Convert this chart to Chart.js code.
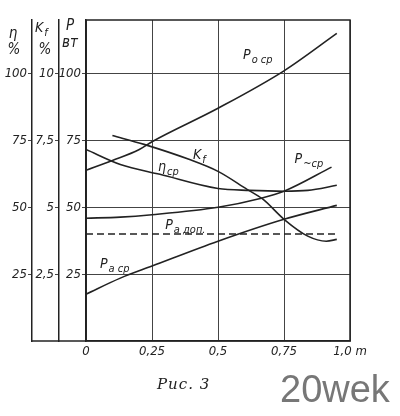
<!DOCTYPE html>
<html>
<head>
<meta charset="utf-8">
<script src="https://cdn.jsdelivr.net/npm/chart.js@4.4.1/dist/chart.umd.min.js"></script>
<style>
  html, body { margin: 0; padding: 0; background: #fff; }
  #wrap { position: relative; width: 400px; height: 416px; }
  #cap { position: absolute; left: 157px; top: 375px; font: italic 15px 'DejaVu Serif', serif; letter-spacing: 1px; color: #222; }
  #wm { position: absolute; left: 280px; top: 368px; font: 38px 'Liberation Sans', Arial, sans-serif; color: #777; }
</style>
</head>
<body>
<div id="wrap">
  <canvas id="myChart" width="400" height="416"></canvas>
  <div id="cap">Рис. 3</div>
  <div id="wm">20wek</div>
</div>
<script>
const ctx = document.getElementById('myChart');

// modulation depth m
let xTicks   = [0, 0.25, 0.5, 0.75, 1];
let xLabels  = ['0', '0,25', '0,5', '0,75', '1,0 m'];
let pTicks   = [25, 50, 75, 100];
let etaTicks = [25, 50, 75, 100];
let kfTicks  = [2.5, 5, 7.5, 10];
let kfLabels = ['2,5', '5', '7,5', '10'];

// P_o cp, W
let pOcpX = [0, 0.1, 0.2, 0.25, 0.5, 0.75, 0.95];
let pOcp  = [63.8, 67.5, 71.5, 74.5, 87, 101, 115];
// K_f, %
let kfX = [0.1, 0.22, 0.39, 0.5, 0.61, 0.67, 0.75, 0.84, 0.91, 0.95];
let kf  = [7.68, 7.35, 6.79, 6.34, 5.67, 5.30, 4.55, 3.92, 3.73, 3.80];
// eta cp, %
let etaX = [0, 0.13, 0.28, 0.5, 0.62, 0.75, 0.84, 0.95];
let eta  = [71.6, 66, 62.3, 57, 56.3, 56, 56.3, 58.2];
// P~cp, W
let pTildeX = [0, 0.13, 0.25, 0.5, 0.66, 0.75, 0.93];
let pTilde  = [45.9, 46.3, 47.2, 50, 53.3, 56, 65];
// P_a cp, W
let pAcpX = [0, 0.13, 0.25, 0.5, 0.75, 0.95];
let pAcp  = [17.5, 23.5, 28, 37.3, 45.5, 50.7];
// P_a доп, W
let pAdopX = [0, 0.95];
let pAdop  = [40, 40];

const pts = (xs, ys) => xs.map((x, i) => ({ x: x, y: ys[i] }));
const ink = '#222';
const tickFont = { family: "'DejaVu Sans Condensed', 'DejaVu Sans', sans-serif", style: 'italic', size: 13 };

function line(data, axis, dash) {
  return {
    data: data,
    yAxisID: axis,
    borderColor: ink,
    borderWidth: 1.6,
    borderDash: dash || [],
    pointRadius: 0,
    cubicInterpolationMode: 'monotone',
    fill: false
  };
}

// curve labels: main letter + subscript, placed in data coords
let curveLabels = [
  { main: 'P', sub: 'o cp', x: 0.595, y: 105.6 },
  { main: 'K', sub: 'f', x: 0.405, y: 68 },
  { main: 'η', sub: 'cp', x: 0.273, y: 63.5 },
  { main: 'P', sub: '~cp', x: 0.79, y: 66.4 },
  { main: 'P', sub: 'a доп.', x: 0.30, y: 41.8 },
  { main: 'P', sub: 'a cp', x: 0.053, y: 27.2 }
];

function subText(c, main, sub, x, y) {
  c.font = "italic 14px 'DejaVu Sans Condensed', 'DejaVu Sans', sans-serif";
  c.fillText(main, x, y);
  let w = c.measureText(main).width;
  c.font = "italic 11px 'DejaVu Sans Condensed', 'DejaVu Sans', sans-serif";
  c.fillText(sub, x + w + 1, y + 4);
}

const decor = {
  id: 'decor',
  afterDraw(chart) {
    const c = chart.ctx, a = chart.chartArea, s = chart.scales;
    c.save();
    c.strokeStyle = ink;
    c.lineWidth = 1.5;
    c.strokeRect(a.left, a.top, a.right - a.left, a.bottom - a.top);
    // bottom line runs on under the extra axes
    c.beginPath();
    c.moveTo(s.yEta.right, a.bottom);
    c.lineTo(a.left, a.bottom);
    c.stroke();
    c.fillStyle = ink;
    c.textBaseline = 'alphabetic';
    curveLabels.forEach(l => {
      subText(c, l.main, l.sub, s.x.getPixelForValue(l.x), s.yP.getPixelForValue(l.y));
    });
    // axis headers
    c.textAlign = 'center';
    c.font = "italic 15px 'DejaVu Sans Condensed', 'DejaVu Sans', sans-serif";
    c.fillText('η', s.yEta.right - 19, a.top + 18);
    c.fillText('%', s.yEta.right - 18, a.top + 34);
    c.fillText('%', s.yKf.right - 14, a.top + 34);
    c.fillText('P', s.yP.right - 16, a.top + 10);
    c.fillText('вт', s.yP.right - 16, a.top + 27);
    c.textAlign = 'left';
    subText(c, 'K', 'f', s.yKf.right - 24, a.top + 12);
    c.restore();
  }
};

function leftAxis(weight, max, ticks, labels, width, onArea) {
  return {
    type: 'linear',
    position: 'left',
    weight: weight,
    min: 0,
    max: max,
    afterBuildTicks: sc => { sc.ticks = ticks.map(v => ({ value: v })); },
    afterFit: sc => { sc.width = width; },
    ticks: {
      color: ink,
      font: tickFont,
      padding: 1,
      callback: (v) => labels ? labels[ticks.indexOf(v)] : String(v)
    },
    grid: { color: '#444', lineWidth: 1, tickLength: 4, drawOnChartArea: onArea },
    border: { display: true, color: ink, width: 1.5 }
  };
}

new Chart(ctx, {
  type: 'line',
  data: {
    datasets: [
      line(pts(pOcpX, pOcp), 'yP'),
      line(pts(kfX, kf), 'yKf'),
      line(pts(etaX, eta), 'yEta'),
      line(pts(pTildeX, pTilde), 'yP'),
      line(pts(pAcpX, pAcp), 'yP'),
      line(pts(pAdopX, pAdop), 'yP', [7, 4])
    ]
  },
  plugins: [decor],
  options: {
    responsive: false,
    animation: false,
    layout: { padding: { left: 4, top: 20, right: 50, bottom: 51 } },
    plugins: { legend: { display: false }, tooltip: { enabled: false } },
    scales: {
      x: {
        type: 'linear',
        min: 0,
        max: 1,
        afterBuildTicks: sc => { sc.ticks = xTicks.map(v => ({ value: v })); },
        afterFit: sc => { sc.height = 24; },
        ticks: {
          color: ink,
          font: tickFont,
          padding: 3,
          autoSkip: false,
          maxRotation: 0,
          callback: (v) => xLabels[xTicks.indexOf(v)]
        },
        grid: { color: '#444', lineWidth: 1, drawTicks: false },
        border: { display: true, color: ink, width: 1.5 }
      },
      yEta: leftAxis(2, 120, etaTicks, null, 28, false),
      yKf: leftAxis(1, 12, kfTicks, kfLabels, 27, false),
      yP: leftAxis(0, 120, pTicks, null, 27, true)
    }
  }
});
</script>
</body>
</html>
